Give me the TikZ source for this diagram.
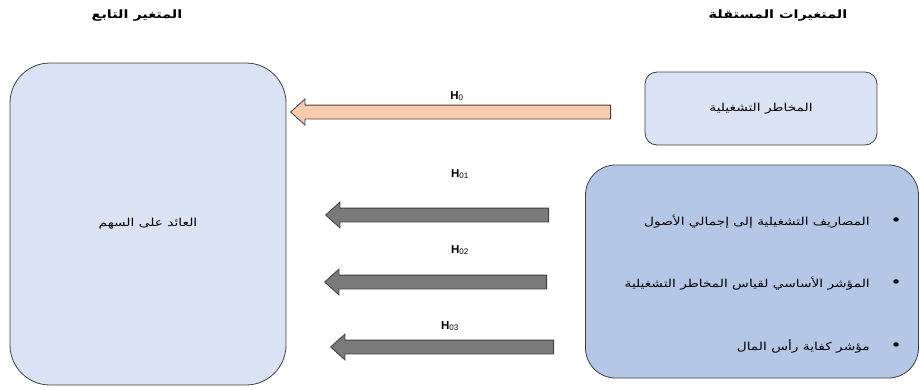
\documentclass[tikz,border=0pt]{standalone}
\usepackage{fontspec}
\setmainfont{Liberation Sans}
\newfontfamily\arabicfont[Script=Arabic, FakeStretch=1.25]{DejaVu Sans}
\TeXXeTstate=1
\usepackage{tikz}
\usetikzlibrary{
  	positioning,
  	shapes.arrows
  }
\definecolor{boxline}{HTML}{404040}
\definecolor{paleblue}{HTML}{DAE3F3}
\definecolor{midblue}{HTML}{B4C7E7}
\definecolor{peach}{HTML}{F8CBAD}
\definecolor{darkgrey}{HTML}{7A7A7A}
\newcommand{\itemdot}{{\fontsize{15}{13}\selectfont •}\hspace{21pt}}
\tikzset{
  box/.style={draw=boxline, thick, rounded corners=#1, font=\arabicfont\fontsize{11}{13}\selectfont},
  title/.style={font=\arabicfont\bfseries\fontsize{11.5}{14}\selectfont},
  item/.style={font=\arabicfont\fontsize{11}{13}\selectfont, inner sep=0pt},
  blockarrow/.style={single arrow, draw=boxline, thick, shape border rotate=180,
    inner xsep=0pt, inner ysep=6.5pt, single arrow head extend=6pt, single arrow tip angle=84},
  hlabel/.style={font=\bfseries\fontsize{11.5}{13}\selectfont}
}

\begin{document}
\begin{tikzpicture}[x=1pt, y=-1pt]
  	\useasboundingbox (0,0) rectangle (922,388);
  	% column titles
  	\node[title] (deptitle) at (137,16) {\beginR المتغير التابع\endR};
  	\node[title] (indtitle) at (778,16) {\beginR المتغيرات المستقلة\endR};
  	% boxes
  	\node[box=40pt, fill=paleblue, minimum width=276pt, minimum height=322pt] (eps) at (148,224) {\beginR العائد على السهم\endR};
  	\node[box=12pt, fill=paleblue, minimum width=232pt, minimum height=73pt] (oprisk) at (761,108.5) {\beginR المخاطر التشغيلية\endR};
  	\node[box=30pt, fill=midblue, minimum width=333pt, minimum height=213pt] (measures) at (752,271.5) {};
  	\node[item, anchor=east] (m1) at (902,222) {\beginR\itemdot المصاريف التشغيلية إلى إجمالي الأصول\endR};
  	\node[item, anchor=east] (m2) at (902,284) {\beginR\itemdot المؤشر الأساسي لقياس المخاطر التشغيلية\endR};
  	\node[item, anchor=east] (m3) at (902,346) {\beginR\itemdot مؤشر كفاية رأس المال\endR};
  	% hypotheses
  	\coordinate (tip0) at (290,112);
  	\coordinate (tip1) at (325,215);
  	\coordinate (tip2) at (324,282);
  	\coordinate (tip3) at (330,347);
  	\node[blockarrow, fill=peach, minimum height=320pt, anchor=tip] (h0) at (tip0) {};
  	\node[blockarrow, fill=darkgrey, minimum height=223pt, anchor=tip] (h1) at (tip1) {};
  	\node[blockarrow, fill=darkgrey, minimum height=222pt, anchor=tip] (h2) at (tip2) {};
  	\node[blockarrow, fill=darkgrey, minimum height=223pt, anchor=tip] (h3) at (tip3) {};
  	\node[hlabel] (l0) at (457,96) {H\textsubscript{\mdseries 0}};
  	\node[hlabel] (l1) at (460,174) {H\textsubscript{\mdseries 01}};
  	\node[hlabel] (l2) at (460,250) {H\textsubscript{\mdseries 02}};
  	\node[hlabel] (l3) at (450,326) {H\textsubscript{\mdseries 03}};
\end{tikzpicture}
\end{document}
